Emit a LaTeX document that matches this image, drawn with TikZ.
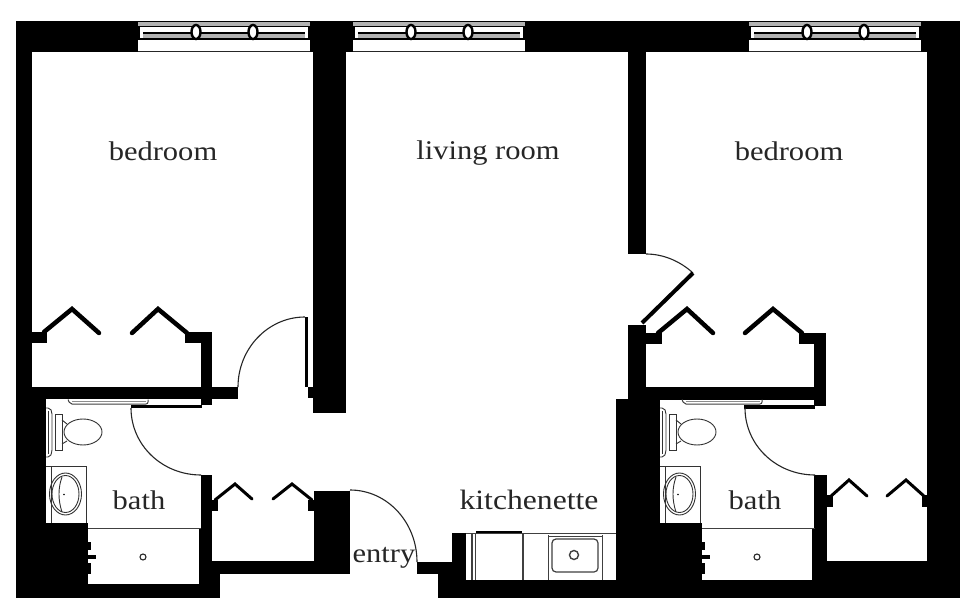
\documentclass[tikz,border=0pt]{standalone}
\usepackage{fontspec}
\setmainfont[FakeStretch=1.13]{Liberation Serif}
\newcommand{\wallbox}[4]{\fill[black] (#1,#2) rectangle (#3,#4);}
\tikzset{
  label text/.style={text=black!85,inner sep=0pt,font=\fontsize{27}{29}\selectfont},
  thinline/.style={draw=black!75,line width=1pt},
  fixture/.style={draw=black!80,line width=.9pt},
  doorarc/.style={draw=black!85,line width=1.1pt},
  closetdoor/.style={draw=black,line width=4.5pt,line cap=round,line join=miter},
  smalldoor/.style={draw=black,line width=3pt,line cap=round,line join=miter},
}
\newcommand{\windowunit}[1]{%
\begin{scope}[xshift=#1pt]
  \fill[white] (0,21) rectangle (172,52);
  \fill[black] (0,21) rectangle (172,22.5);
  \fill[black!30] (0,22.5) rectangle (172,26);
  \fill[black] (2,26) rectangle (170,27.5);
  \fill[black] (5,32.5) rectangle (167,34);
  \fill[black!30] (5,34) rectangle (167,38);
  \fill[black] (0,38) rectangle (172,40);
  \draw[black!85,line width=1.2pt] (0,51.5) -- (172,51.5);
  \fill[black] (0,26) rectangle (2,38);
  \fill[black] (170,26) rectangle (172,38);
  \draw[black,line width=2.4pt,fill=white] (58,32) ellipse [x radius=4.5,y radius=7];
  \draw[black,line width=2.4pt,fill=white] (115,32) ellipse [x radius=4.5,y radius=7];
\end{scope}}
\newcommand{\bathunit}[1]{%
\begin{scope}[xshift=#1pt]
  % towel bar
  \draw[thinline,rounded corners=2pt] (68,399.5) -- (70,404) -- (148,404) -- (148,399.5);
  \draw[black!45,line width=.8pt] (72,401.5) -- (146,401.5);
  % toilet
  \draw[fixture,rounded corners=2pt] (46,408) -- (50,408) -- (52,412) -- (52,452) -- (50,457) -- (46,457);
  \draw[fixture] (48.5,411) -- (48.5,454);
  \draw[fixture] (55,414) rectangle (62,450);
  \draw[fixture] (62,420) -- (67,424);
  \draw[fixture] (62,444) -- (67,441);
  \draw[fixture,fill=white] (83,432) ellipse [x radius=19,y radius=13];
  % sink
  \draw[fixture] (46,466) -- (86,466) -- (86,523);
  \draw[fixture] (51,466) -- (51,523);
  \draw[fixture] (65.5,494) ellipse [x radius=16,y radius=21];
  \draw[fixture] (65.5,494) ellipse [x radius=13.5,y radius=18.5];
  \draw[fixture] (62,477) .. controls (58,488) and (58,500) .. (62,512);
  \fill[black] (64,494.5) circle (.9);
  % tub
  \draw[thinline] (88,528) -- (201,528);
  \fill[black] (88,542) rectangle (91,550);
  \fill[black] (88,555) rectangle (96,559);
  \fill[black] (88,563) rectangle (91,574);
  \draw[black!85,line width=1.1pt] (143,557) circle (3);
  % bath door swing
  \draw[doorarc] (131,408) .. controls (131,445) and (162,475) .. (201,475);
\end{scope}}
\begin{document}
\begin{tikzpicture}[x=1pt,y=-1pt]
\useasboundingbox (0,0) rectangle (967,612);
\fill[white] (0,0) rectangle (967,612);
% top and outer walls
\wallbox{16}{21}{960}{52}
\wallbox{16}{21}{32}{598}
\wallbox{927}{21}{960}{598}
% left unit
\wallbox{16}{399}{46}{598}
\wallbox{16}{523}{88}{598}
\wallbox{16}{584}{220}{598}
\wallbox{199}{528}{212}{598}
\wallbox{201}{475}{212}{574}
\wallbox{212}{561}{220}{598}
\wallbox{212}{561}{350}{574}
\wallbox{32}{387}{238}{398.5}
\wallbox{32}{332}{47}{343}
\wallbox{185}{332}{212}{343}
\wallbox{201}{332}{212}{405}
\wallbox{131}{404.5}{202}{408}
\wallbox{313}{21}{346}{413}
\wallbox{308}{387}{314}{398}
\wallbox{305}{317}{308}{387}
\wallbox{314}{491}{350}{574}
\wallbox{308}{500}{314}{511}
\wallbox{212}{500}{218}{511}
% entry and kitchenette
\wallbox{417}{562}{452}{574}
\wallbox{438}{574}{452}{598}
\wallbox{452}{533}{466}{598}
\wallbox{438}{580}{960}{598}
\wallbox{476}{531}{522}{533}
% right unit
\wallbox{616}{399}{660}{598}
\wallbox{616}{523}{702}{598}
\wallbox{628}{21}{646}{254}
\wallbox{628}{325}{646}{400}
\wallbox{646}{387}{826}{400}
\wallbox{646}{333}{662}{344}
\wallbox{799}{333}{826}{344}
\wallbox{814}{333}{826}{406}
\wallbox{744}{405}{815}{409}
\wallbox{814}{475}{827}{598}
\wallbox{812}{528}{827}{598}
\wallbox{702}{584}{827}{598}
\wallbox{814}{561}{960}{598}
\wallbox{827}{495}{833}{507}
\wallbox{922}{495}{927}{507}
% windows
\windowunit{138}
\windowunit{353}
\windowunit{749}
% bath fixtures
\bathunit{0}
\bathunit{614}
% doors
\draw[doorarc] (238,387) .. controls (238,348.6) and (268,317) .. (305,317);
\draw[doorarc] (350,490) .. controls (387,490) and (417,522) .. (417,562);
\draw[doorarc] (646,254) .. controls (663,254) and (680,261) .. (693,273);
\draw[black,line width=4pt] (693,273) -- (642,323);
% closet doors
\draw[closetdoor] (44,332) -- (72,309) -- (99,333);
\draw[closetdoor] (132,333) -- (158,309) -- (187,333);
\draw[closetdoor] (658,333) -- (687,309) -- (713,333);
\draw[closetdoor] (745,333) -- (773,309) -- (802,333);
\draw[smalldoor] (215,500) -- (235,484) -- (252,499);
\draw[smalldoor] (273,499) -- (292,484) -- (312,500);
\draw[smalldoor] (830,497) -- (849,480) -- (867,496);
\draw[smalldoor] (887,496) -- (906,480) -- (925,497);
% kitchenette counter
\draw[thinline] (466,533) -- (616,533);
\draw[thinline,line width=1.2pt] (472,533) -- (472,580);
\draw[thinline,line width=1.2pt] (475.5,533) -- (475.5,580);
\draw[thinline,line width=1.2pt] (523,533) -- (523,580);
\draw[thinline] (548,535) -- (548,580);
\draw[thinline] (602,535) -- (602,580);
\draw[thinline] (548,536) -- (602,536);
\draw[thinline,rounded corners=4pt,line width=1.2pt] (552,539) rectangle (598,572);
\draw[thinline,line width=1.4pt] (574,555) circle (4.5);
% labels
\node[label text] (bedroomL) at (163,151) {bedroom};
\node[label text] (living) at (488,153.5) {living room};
\node[label text] (bedroomR) at (789,151) {bedroom};
\node[label text] (bathL) at (139,500) {bath};
\node[label text] (bathR) at (755,500) {bath};
\node[label text,font=\fontsize{28}{30}\selectfont] (kitchen) at (529,500) {kitchenette};
\node[label text] (entry) at (384,557.5) {entry};
\end{tikzpicture}
\end{document}
